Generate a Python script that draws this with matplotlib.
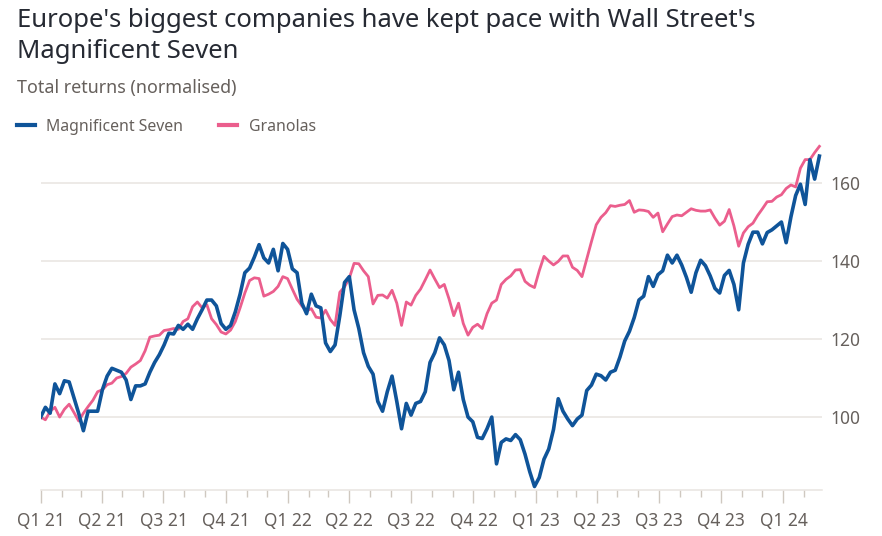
import matplotlib
matplotlib.use("Agg")
import matplotlib.pyplot as plt
import matplotlib.dates as mdates
import pandas as pd

# ---- data (weekly readings, normalised total returns) ----
start_date = "2021-01-01"
mag7 = [100, 102.5, 101, 108.5, 106, 109.3, 109, 105, 101, 96.5,
        101.5, 101.5, 101.5, 107, 110.5, 112.5, 112, 111.5, 109.5, 104.5,
        108, 108, 108.5, 111.5, 114, 116, 118.5, 121.5, 121.3, 123.5,
        122.5, 123.8, 122.5, 125.2, 127.5, 130, 130, 128.5, 124, 122.5,
        123.5, 127, 131.5, 137, 138.2, 141, 144.2, 140.8, 139.5, 143,
        137.5, 144.5, 143, 138, 137, 129.2, 126.5, 131.5, 128.5, 128,
        119, 116.8, 118.5, 126, 134.5, 136, 127.5, 122.7, 116.5, 113,
        111, 104, 101.5, 106.5, 110.5, 104, 97, 103.5, 100.5, 103.5,
        104, 106.5, 114, 116.5, 120.3, 118.5, 114.5, 107, 111.5, 104.5,
        100, 98.8, 94.8, 94.5, 97, 100, 88, 93.5, 94.4, 94,
        95.5, 94.2, 90.5, 86, 82.2, 84.5, 89.2, 91.8, 96.8, 104.7,
        101.5, 99.5, 97.8, 99.5, 100.5, 106.8, 108.2, 111, 110.6, 109.5,
        111.5, 112, 115.4, 119.5, 122, 125.5, 130, 131, 136, 133.5,
        136.5, 137.5, 141.5, 139.5, 141.5, 139, 135.8, 132, 137, 140.2,
        138.8, 136.2, 133, 131.8, 136.3, 137.6, 134, 127.5, 139.5, 144.3,
        147.4, 147.4, 144.4, 147.3, 148, 149, 150, 144.7, 151.3, 156.8,
        159.7, 154.5, 166, 161, 166.9]
granolas = [100, 99.3, 101.5, 102.5, 100, 102, 103.3, 101.2, 99, 101,
            102.7, 104.3, 106.5, 107, 108.3, 108.7, 110, 110.4, 111.2, 112.8,
            113.6, 114.5, 117, 120.5, 120.8, 121, 122.2, 122.4, 122.7, 122.5,
            124.5, 125.2, 128.3, 129.5, 128, 128.8, 125.2, 123.7, 121.8, 121.3,
            122.3, 124.5, 128, 131.8, 135, 135.7, 135.5, 131, 131.5, 132.2,
            133.5, 136, 135.5, 132.8, 130.2, 128.5, 127.2, 127.8, 125.6, 125.4,
            127.4, 125, 123.5, 132, 133.4, 135.6, 139.4, 139.3, 137.5, 136,
            129, 131.2, 131.3, 130.5, 132.5, 129.2, 123.5, 129.5, 128.7, 131.2,
            132.8, 135.2, 137.7, 135.4, 133.2, 134, 130.3, 126, 129.2, 124,
            121, 123, 123.8, 122.7, 126.5, 129.2, 130, 134, 135.3, 136.2,
            137.7, 137.8, 134.8, 133.8, 133.2, 137.5, 141.2, 140, 139, 139.9,
            141.3, 141.3, 138.4, 137.6, 136, 140.5, 145, 149.3, 151.2, 152.4,
            154.2, 154, 154.3, 154.5, 155.5, 152.5, 153.1, 153, 152.7, 151.2,
            152.3, 147.5, 149.5, 151.4, 151.8, 151.6, 152.5, 153.4, 153, 152.8,
            152.8, 153.1, 151, 149.2, 150.2, 153.2, 149, 143.8, 147.2, 148.8,
            149.7, 151.7, 153.4, 155.2, 155.3, 156.4, 157, 158.6, 159.5, 159,
            163.8, 166, 166, 167.8, 169.4]
series_names = ["Magnificent Seven", "Granolas"]
quarter_labels = ["Q1 21", "Q2 21", "Q3 21", "Q4 21", "Q1 22", "Q2 22", "Q3 22",
                  "Q4 22", "Q1 23", "Q2 23", "Q3 23", "Q4 23", "Q1 24"]
y_ticks = [100, 120, 140, 160]

dates = pd.date_range(start_date, periods=len(mag7), freq="7D")

# ---- style ----
BLUE = "#0F5499"
PINK = "#EB5E8D"
GRID = "#E8E4E0"
TXT = "#66605C"
TITLE = "#262A33"
FONT = "Noto Sans"
plt.rcParams["font.family"] = [FONT, "DejaVu Sans"]

fig = plt.figure(figsize=(8.82, 5.36), dpi=100, facecolor="white")
ax = fig.add_axes([0.0461, 0.0858, 0.886, 0.6528])
ax.set_facecolor("white")

ax.plot(dates, granolas, color=PINK, lw=2.0, solid_joinstyle="round", zorder=3)
ax.plot(dates, mag7, color=BLUE, lw=2.6, solid_joinstyle="round", zorder=4)

ax.set_xlim(pd.Timestamp("2021-01-01"), pd.Timestamp("2024-02-27"))
ax.set_ylim(81.3, 171)

# y axis on right
ax.yaxis.tick_right()
ax.set_yticks(y_ticks)
ax.tick_params(axis="y", length=0, pad=6, labelsize=12.5, labelcolor=TXT)
ax.grid(axis="y", color=GRID, lw=1.1, zorder=0)

# x axis: quarters major, months minor
qpos = pd.date_range("2021-01-01", periods=len(quarter_labels), freq="QS")
ax.set_xticks(qpos)
ax.set_xticklabels(quarter_labels)
ax.xaxis.set_minor_locator(mdates.MonthLocator())
ax.tick_params(axis="x", which="major", length=9.5, width=1, color="#CFC8C0",
               pad=6, labelsize=12.5, labelcolor=TXT)
ax.tick_params(axis="x", which="minor", length=5, width=1, color="#CFC8C0")

for s in ["top", "right", "left"]:
    ax.spines[s].set_visible(False)
ax.spines["bottom"].set_color(GRID)
ax.spines["bottom"].set_linewidth(1.1)

# ---- titles ----
fig.text(17 / 882, 1 - 27.3 / 536, "Europe's biggest companies have kept pace with Wall Street's",
         fontsize=18.5, color=TITLE, va="baseline", ha="left")
fig.text(17 / 882, 1 - 58.3 / 536, "Magnificent Seven",
         fontsize=18.5, color=TITLE, va="baseline", ha="left")
fig.text(17 / 882, 1 - 93.3 / 536, "Total returns (normalised)",
         fontsize=12.9, color=TXT, va="baseline", ha="left")

# ---- legend ----
ly = 1 - 125 / 536
fig.add_artist(plt.Line2D([17 / 882, 35 / 882], [ly, ly], color=BLUE, lw=3,
                          transform=fig.transFigure))
fig.text(46 / 882, 1 - 130.7 / 536, series_names[0], fontsize=11.4, color=TXT,
         va="baseline", ha="left")
fig.add_artist(plt.Line2D([219 / 882, 237 / 882], [ly, ly], color=PINK, lw=3,
                          transform=fig.transFigure))
fig.text(249 / 882, 1 - 130.7 / 536, series_names[1], fontsize=11.4, color=TXT,
         va="baseline", ha="left")

fig.savefig("out.png", dpi=100, facecolor="white")
